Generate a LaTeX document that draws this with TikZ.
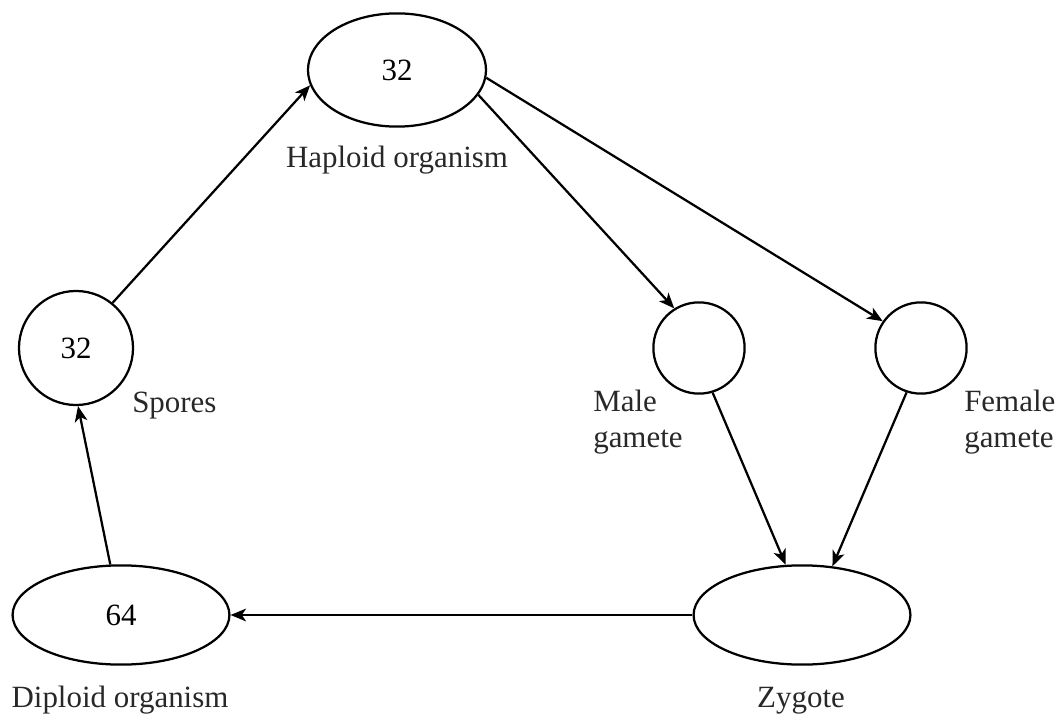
\documentclass[tikz,border=0pt]{standalone}
\usepackage{fontspec}
\setmainfont{Liberation Serif}
\usetikzlibrary{arrows.meta, shapes.geometric}
\definecolor{inkgray}{RGB}{40,40,40}
\tikzset{
  stage/.style={ellipse, draw, line width=1.6pt, inner sep=0pt,
                minimum width=5.42cm, minimum height=2.48cm},
  cell/.style={circle, draw, line width=1.6pt, inner sep=0pt,
               minimum size=2.28cm},
  lbl/.style={text=inkgray, inner sep=0pt},
  arr/.style={-{Stealth[length=11pt, width=9pt, inset=3pt]}, line width=1.6pt},
}
\begin{document}
\begin{tikzpicture}[x=0.025cm, y=-0.025cm,
                    every node/.style={font=\fontsize{22}{25}\selectfont}]
  \useasboundingbox (0,0) rectangle (1059,715);

  \node[stage, minimum width=4.45cm, minimum height=2.83cm] (haploid) at (397,70)  {32};
  \node[cell, minimum size=2.85cm]                          (spores)  at (76,348)  {32};
  \node[cell]                                               (male)    at (699,348) {};
  \node[cell]                                               (female)  at (921,348) {};
  \node[stage]                                              (diploid) at (121,615) {64};
  \node[stage]                                              (zygote)  at (802,615) {};

  \node[lbl, anchor=base]                   (haplab)   at (397,168) {Haploid organism};
  \node[lbl, anchor=base west]              (sporelab) at (132,412) {Spores};
  \node[lbl, anchor=base west, align=left]  (malelab)  at (593,447) {Male\\gamete};
  \node[lbl, anchor=base west, align=left]  (femlab)   at (964,447) {Female\\gamete};
  \node[lbl, anchor=base]                   (diplab)   at (120,707) {Diploid organism};
  \node[lbl, anchor=base]                   (zyglab)   at (801,707) {Zygote};

  \draw[arr] (spores.51)    -- (haploid.190);
  \draw[arr] (haploid.-17)  -- (male.122);
  \draw[arr] (haploid.-5)   -- (female.145);
  \draw[arr] (male.-73)     -- (zygote.108);
  \draw[arr] (female.-108)  -- (zygote.58);
  \draw[arr] (zygote.west)  -- (diploid.east);
  \draw[arr] (diploid.102)  -- (spores.-88);
\end{tikzpicture}
\end{document}
